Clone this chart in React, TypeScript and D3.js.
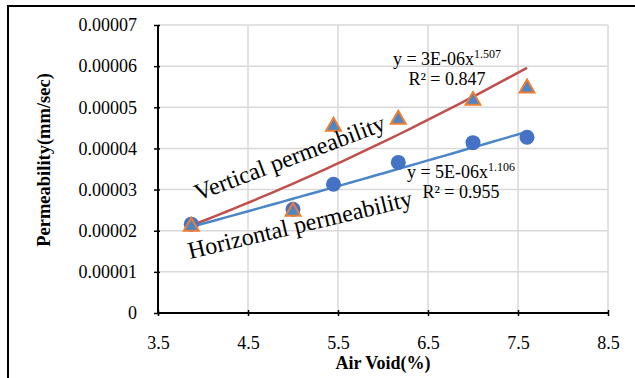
import { useEffect, useRef } from 'react'
import * as d3 from 'd3'

const airVoid = [3.87, 5.0, 5.45, 6.17, 7.0, 7.6]
const horizontal = [0.0000216, 0.0000252, 0.0000313, 0.0000366, 0.0000414, 0.0000427]
const vertical = [0.0000213, 0.0000249, 0.0000456, 0.0000473, 0.0000519, 0.0000549]
const xTicks = [3.5, 4.5, 5.5, 6.5, 7.5, 8.5]
const yTicks = [0, 0.00001, 0.00002, 0.00003, 0.00004, 0.00005, 0.00006, 0.00007]
const yTickLabels = ['0', '0.00001', '0.00002', '0.00003', '0.00004', '0.00005', '0.00006', '0.00007']

// power fit on log-log, as Excel trendline does
function powerFit(xs: number[], ys: number[]) {
  const lx = xs.map(Math.log)
  const ly = ys.map(Math.log)
  const mx = d3.mean(lx)!
  const my = d3.mean(ly)!
  const b = d3.sum(lx, (v, i) => (v - mx) * (ly[i] - my)) / d3.sum(lx, v => (v - mx) ** 2)
  const a = Math.exp(my - b * mx)
  return (x: number) => a * Math.pow(x, b)
}

const FONT = '"Liberation Serif", "Times New Roman", serif'

export default function App() {
  const svgRef = useRef<SVGSVGElement>(null)

  useEffect(() => {
    const svg = d3.select(svgRef.current)
    svg.selectAll('*').remove()

    const width = 635
    const height = 378
    const x = d3.scaleLinear().domain([3.5, 8.5]).range([158, 608])
    const y = d3.scaleLinear().domain([0, 0.00007]).range([313, 25])

    svg.attr('width', width).attr('height', height)

    svg.append('rect').attr('width', width).attr('height', height).attr('fill', '#fff')

    // frame
    svg.append('path').attr('d', 'M8,378 L8,6 L635,6').attr('fill', 'none').attr('stroke', '#000').attr('stroke-width', 2)

    // grid
    svg.append('g').selectAll('line').data(yTicks.slice(1)).enter().append('line')
      .attr('x1', x(3.5)).attr('x2', x(8.5))
      .attr('y1', d => y(d)).attr('y2', d => y(d))
      .attr('stroke', '#d9d9d9').attr('stroke-width', 1.5)
    svg.append('g').selectAll('line').data(xTicks.slice(1)).enter().append('line')
      .attr('x1', d => x(d)).attr('x2', d => x(d))
      .attr('y1', y(0)).attr('y2', y(0.00007))
      .attr('stroke', '#d9d9d9').attr('stroke-width', 1.5)

    // axes
    const xAxis = svg.append('g').attr('transform', `translate(0,${y(0)})`)
      .call(d3.axisBottom(x).tickValues(xTicks).tickSize(4).tickFormat(d => d3.format('.1f')(d as number)))
    xAxis.attr('font-family', FONT)
    xAxis.select('.domain').attr('stroke-width', 2).attr('d', `M${x(3.5)},0H${x(8.5)}`)
    xAxis.selectAll('.tick line').attr('stroke-width', 1.5).attr('y1', -3).attr('y2', 3)
    xAxis.selectAll('text').attr('font-size', 18).attr('font-family', FONT).attr('fill', '#000').attr('dy', 0).attr('y', 36)

    const yAxis = svg.append('g').attr('transform', `translate(${x(3.5)},0)`)
      .call(d3.axisLeft(y).tickValues(yTicks).tickSize(4).tickFormat((d, i) => yTickLabels[i]))
    yAxis.attr('font-family', FONT)
    yAxis.select('.domain').attr('stroke-width', 2).attr('d', `M0,${y(0)}V${y(0.00007)}`)
    yAxis.selectAll('.tick line').attr('stroke-width', 1.5).attr('x1', -4).attr('x2', 2)
    yAxis.selectAll('text').attr('font-size', 18).attr('font-family', FONT).attr('fill', '#000').attr('x', -21).attr('dy', '0.32em')

    // axis titles
    svg.append('text').attr('x', 383).attr('y', 369).attr('text-anchor', 'middle').attr('font-family', FONT)
      .attr('font-size', 18).attr('font-weight', 'bold').text('Air Void(%)')
    svg.append('text').attr('transform', `translate(50,${y(0.0000372)}) rotate(-90)`).attr('text-anchor', 'middle').attr('font-family', FONT)
      .attr('font-size', 18.5).attr('font-weight', 'bold').text('Permeability(mm/sec)')

    // trendlines
    const x0 = d3.min(airVoid)!
    const x1 = d3.max(airVoid)!
    const xs = d3.range(0, 41).map(i => x0 + (x1 - x0) * i / 40)
    const line = d3.line<[number, number]>().x(d => x(d[0])).y(d => y(d[1]))
    const fv = powerFit(airVoid, vertical)
    const fh = powerFit(airVoid, horizontal)
    svg.append('path').attr('d', line(xs.map(v => [v, fv(v)]))!).attr('fill', 'none').attr('stroke', '#c0504d').attr('stroke-width', 2.5)
    svg.append('path').attr('d', line(xs.map(v => [v, fh(v)]))!).attr('fill', 'none').attr('stroke', '#4a86c8').attr('stroke-width', 2.5)

    // markers
    svg.append('g').selectAll('circle').data(airVoid).enter().append('circle')
      .attr('cx', d => x(d)).attr('cy', (d, i) => y(horizontal[i])).attr('r', 7.5)
      .attr('fill', '#4472c4')
    const tri = d3.symbol().type(d3.symbolTriangle).size(95)
    svg.append('g').selectAll('path').data(airVoid).enter().append('path')
      .attr('d', tri()!)
      .attr('transform', (d, i) => `translate(${x(d)},${y(vertical[i]) + 1})`)
      .attr('fill', '#4a86c8').attr('stroke', '#ed7d31').attr('stroke-width', 2)

    // series labels
    svg.append('text').attr('transform', 'translate(198,201) rotate(-20.7)').attr('font-family', FONT)
      .attr('font-size', 24).text('Vertical permeability')
    svg.append('text').attr('transform', 'translate(190,259) rotate(-13.4)').attr('font-family', FONT)
      .attr('font-size', 24).text('Horizontal permeability')

    // equations
    const eq = (ex: number, ey: number, coef: string, pow: string, r2: string) => {
      const t = svg.append('text').attr('x', ex).attr('y', ey).attr('text-anchor', 'middle').attr('font-family', FONT).attr('font-size', 18)
      t.append('tspan').text(`y = ${coef}x`)
      t.append('tspan').attr('font-size', 12).attr('dy', -7).text(pow)
      svg.append('text').attr('x', ex).attr('y', ey + 20).attr('text-anchor', 'middle').attr('font-family', FONT).attr('font-size', 18).text(`R² = ${r2}`)
    }
    eq(447, 65, '3E-06', '1.507', '0.847')
    eq(461, 178, '5E-06', '1.106', '0.955')
  }, [])

  return <svg ref={svgRef} style={{ display: 'block', position: 'absolute', left: 0, top: 0 }} />
}
